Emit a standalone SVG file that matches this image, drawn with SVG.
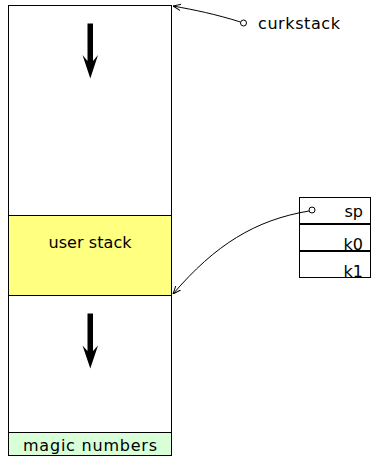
<svg xmlns="http://www.w3.org/2000/svg" width="372" height="459" viewBox="0 0 372 459">
<style>
.box{fill:none;stroke:#000;stroke-width:1}
.t{font-family:"DejaVu Sans","Liberation Sans",sans-serif;font-size:16px;fill:#000}
.c{fill:none;stroke:#000;stroke-width:1}
.big{fill:#000}
</style>
<defs>
<marker id="ah" viewBox="0 0 10 10" refX="10" refY="5" markerWidth="8" markerHeight="8" markerUnits="userSpaceOnUse" orient="auto">
<path d="M0,1 L10,5 L0,9" fill="none" stroke="#000" stroke-width="1.2"/>
</marker>
</defs>
<rect width="372" height="459" fill="#fff"/>
<g id="stack">
<rect class="box" x="8.5" y="5.5" width="163" height="450"/>
</g>
<g id="user-stack">
<rect x="8.5" y="215.5" width="163" height="80" fill="#ffff80" stroke="#000"/>
<text class="t" x="90" y="248" text-anchor="middle" textLength="83" lengthAdjust="spacing">user stack</text>
</g>
<g id="magic">
<rect x="8.5" y="432.5" width="163" height="23" fill="#d8ffd8" stroke="#000"/>
<text class="t" x="90" y="451" text-anchor="middle" textLength="134" lengthAdjust="spacing">magic numbers</text>
</g>
<g id="arrows">
<path class="big" d="M87.5,23.5 L93,23.5 L93,61 L98,55 L90.3,78.5 L82.5,55 L87.5,61 Z"/>
<path class="big" d="M87.5,313.5 L93,313.5 L93,351 L98,345.5 L90.3,368.5 L82.5,345.5 L87.5,351 Z"/>
</g>
<g id="registers">
<rect class="box" x="299.5" y="197.5" width="71" height="26"/>
<rect class="box" x="299.5" y="224.5" width="71" height="26"/>
<rect class="box" x="299.5" y="251.5" width="71" height="26"/>
<text class="t" x="363" y="217" text-anchor="end">sp</text>
<text class="t" x="363" y="250" text-anchor="end">k0</text>
<text class="t" x="363" y="277" text-anchor="end">k1</text>
</g>
<g id="curkstack">
<text class="t" x="258" y="29" textLength="82" lengthAdjust="spacing">curkstack</text>
</g>
<g id="connectors">
<path class="c" d="M240.5,22 C215,14 195,10 173,6" marker-end="url(#ah)"/>
<circle cx="243.5" cy="23" r="3" fill="#fff" stroke="#000"/>
<path class="c" d="M309,211 C255,220 215,245 173,294" marker-end="url(#ah)"/>
<circle cx="312" cy="210" r="3" fill="#fff" stroke="#000"/>
</g>
</svg>
